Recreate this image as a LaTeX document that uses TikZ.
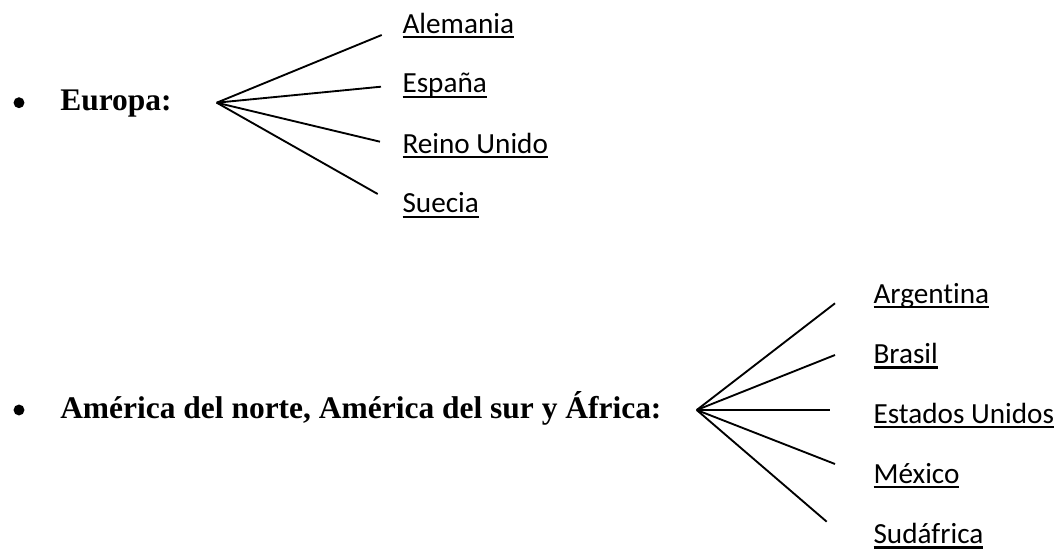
\documentclass[tikz,border=0pt]{standalone}
\usepackage{fontspec}
\setmainfont{Liberation Serif}
\newfontfamily\labfont[Ligatures={NoCommon,NoRare}]{Carlito}
\newcommand\culine[1]{\setbox0=\hbox{#1}\rlap{\rule[-3.8pt]{\wd0}{1.7pt}}\box0}
\tikzset{
  head/.style={anchor=base west, inner sep=0pt, font=\fontsize{23.6}{28}\selectfont\bfseries},
  country/.style={anchor=base west, inner sep=0pt, font=\fontsize{21.9}{26}\selectfont\labfont},
  bulletdot/.style={circle, fill=black, inner sep=0pt, minimum size=8.2pt},
  branch/.style={line width=1.4pt, black}
}
\begin{document}
\begin{tikzpicture}[x=0.75pt,y=-0.75pt]
\useasboundingbox (0,0) rectangle (1062,549);
% group 1
\node[bulletdot] (b1) at (19,102.7) {};
\node[head] (eu) at (60,110.7) {Europa:};
\coordinate (a1) at (216.7,102.7);
\coordinate (e1) at (381.7,35);
\coordinate (e2) at (381,86.7);
\coordinate (e3) at (380,141.7);
\coordinate (e4) at (377.7,194);
\node[country] (ale) at (402.3,33.2) {\culine{Alemania}};
\node[country] (esp) at (402.3,93) {\culine{España}};
\node[country] (rei) at (402.3,153) {\culine{Reino Unido}};
\node[country] (sue) at (402.3,212.8) {\culine{Suecia}};
\foreach \e in {e1,e2,e3,e4} \draw[branch] (a1) -- (\e);
% group 2
\node[bulletdot] (b2) at (19,410) {};
\node[head] (am) at (60,418.3) {América del norte, América del sur y África:};
\coordinate (a2) at (696.7,410);
\coordinate (f1) at (835,303.3);
\coordinate (f2) at (835,355);
\coordinate (f3) at (830,410);
\coordinate (f4) at (835,464);
\coordinate (f5) at (826.7,521.7);
\node[country] (arg) at (873.3,303.4) {\culine{Argentina}};
\node[country] (bra) at (873.3,363.6) {\culine{Brasil}};
\node[country] (usa) at (873.3,423) {\culine{Estados Unidos}};
\node[country] (mex) at (873.3,483.4) {\culine{México}};
\node[country] (sud) at (873.3,543.6) {\culine{Sudáfrica}};
\foreach \e in {f1,f2,f3,f4,f5} \draw[branch] (a2) -- (\e);
\end{tikzpicture}
\end{document}
